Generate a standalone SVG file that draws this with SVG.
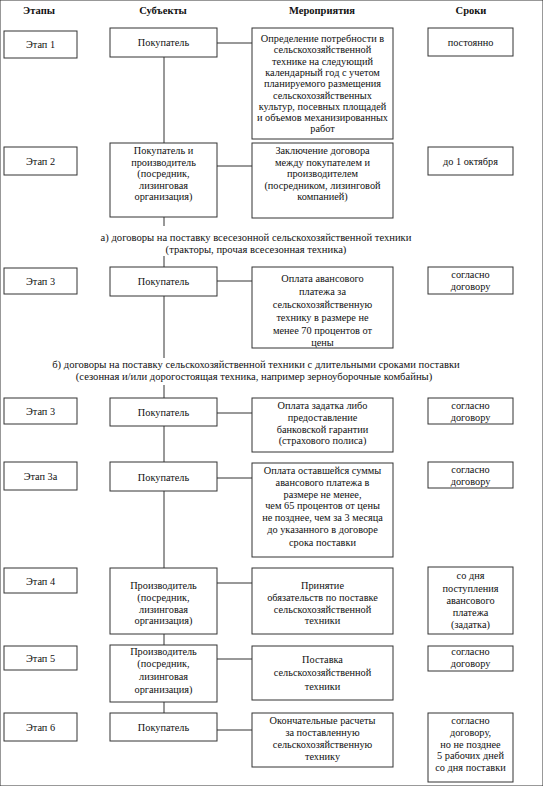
<svg xmlns="http://www.w3.org/2000/svg" width="543" height="786" viewBox="0 0 543 786">
<style>
text{font-family:"Liberation Serif","Times New Roman",serif;font-size:10.3px;fill:#111;text-anchor:middle}
.h{font-weight:bold;font-size:10.5px}
.m{font-size:10.6px}
rect{fill:#fff;stroke:#333;stroke-width:1}
line{stroke:#333;stroke-width:1}
</style>
<rect width="543" height="786" fill="#fff" stroke="none"/>
<g id="headers">
<text class="h" x="39" y="14">Этапы</text>
<text class="h" x="163" y="14">Субъекты</text>
<text class="h" x="322" y="14">Мероприятия</text>
<text class="h" x="471" y="14">Сроки</text>
</g>
<g id="connectors">
<line x1="217" y1="43" x2="252" y2="43"/>
<line x1="164" y1="57" x2="164" y2="143"/>
<line x1="217" y1="166" x2="252" y2="166"/>
<line x1="164" y1="217" x2="164" y2="226"/>
<line x1="164" y1="256" x2="164" y2="267"/>
<line x1="217" y1="281" x2="252" y2="281"/>
<line x1="164" y1="296" x2="164" y2="358"/>
<line x1="164" y1="385" x2="164" y2="398"/>
<line x1="217" y1="413" x2="252" y2="413"/>
<line x1="164" y1="426" x2="164" y2="462"/>
<line x1="217" y1="478" x2="252" y2="478"/>
<line x1="164" y1="491" x2="164" y2="568"/>
<line x1="217" y1="583" x2="252" y2="583"/>
<line x1="164" y1="634" x2="164" y2="645"/>
<line x1="217" y1="659" x2="252" y2="659"/>
<line x1="164" y1="702" x2="164" y2="713"/>
<line x1="217" y1="730" x2="252" y2="730"/>
</g>
<g id="stage1">
<rect x="4" y="31" width="73" height="27"/><text x="40.5" y="48">Этап 1</text>
</g>
<g id="subject1">
<rect x="110" y="28" width="107" height="29"/><text x="163.5" y="46">Покупатель</text>
</g>
<g id="action1">
<rect x="252" y="28" width="141" height="111"/>
<text x="322.5" y="42">Определение потребности в</text>
<text x="322.5" y="53.3">сельскохозяйственной</text>
<text x="322.5" y="64.6">технике на следующий</text>
<text x="322.5" y="75.9">календарный год с учетом</text>
<text x="322.5" y="87.2">планируемого размещения</text>
<text x="322.5" y="98.5">сельскохозяйственных</text>
<text x="322.5" y="109.8">культур, посевных площадей</text>
<text x="322.5" y="121.1">и объемов механизированных</text>
<text x="322.5" y="132.4">работ</text>
</g>
<g id="term1">
<rect x="428" y="28" width="85" height="28"/><text x="470.5" y="46">постоянно</text>
</g>

<g id="stage2">
<rect x="4" y="147" width="73" height="28"/><text x="40.5" y="165">Этап 2</text>
</g>
<g id="subject2">
<rect x="110" y="143" width="107" height="74"/>
<text x="163.5" y="154">Покупатель и</text>
<text x="163.5" y="165.5">производитель</text>
<text x="163.5" y="177">(посредник,</text>
<text x="163.5" y="188.5">лизинговая</text>
<text x="163.5" y="200">организация)</text>
</g>
<g id="action2">
<rect x="252" y="143" width="141" height="75"/>
<text x="322.5" y="154">Заключение договора</text>
<text x="322.5" y="165.5">между покупателем и</text>
<text x="322.5" y="177">производителем</text>
<text x="322.5" y="188.5">(посредником, лизинговой</text>
<text x="322.5" y="200">компанией)</text>
</g>
<g id="term2">
<rect x="428" y="147" width="85" height="28"/><text x="470.5" y="165">до 1 октября</text>
</g>

<g id="section-a">
<text class="m" x="256" y="241">а) договоры на поставку всесезонной сельскохозяйственной техники</text>
<text class="m" x="256" y="253">(тракторы, прочая всесезонная техника)</text>
</g>

<g id="stage3a">
<rect x="4" y="268" width="73" height="26"/><text x="40.5" y="285">Этап 3</text>
</g>
<g id="subject3a">
<rect x="110" y="267" width="107" height="29"/><text x="163.5" y="285">Покупатель</text>
</g>
<g id="action3a">
<rect x="252" y="267" width="141" height="81"/>
<text x="322.5" y="282">Оплата авансового</text>
<text x="322.5" y="295">платежа за</text>
<text x="322.5" y="308">сельскохозяйственную</text>
<text x="322.5" y="321">технику в размере не</text>
<text x="322.5" y="334">менее 70 процентов от</text>
<text x="322.5" y="346">цены</text>
</g>
<g id="term3a">
<rect x="428" y="267" width="85" height="27"/>
<text x="470.5" y="278">согласно</text>
<text x="470.5" y="290">договору</text>
</g>

<g id="section-b">
<text class="m" x="256" y="368">б) договоры на поставку сельскохозяйственной техники с длительными сроками поставки</text>
<text class="m" x="254" y="380">(сезонная и/или дорогостоящая техника, например зерноуборочные комбайны)</text>
</g>

<g id="stage3b">
<rect x="4" y="398" width="73" height="26"/><text x="40.5" y="415">Этап 3</text>
</g>
<g id="subject3b">
<rect x="110" y="398" width="107" height="28"/><text x="163.5" y="416">Покупатель</text>
</g>
<g id="action3b">
<rect x="252" y="398" width="141" height="54"/>
<text x="322.5" y="409">Оплата задатка либо</text>
<text x="322.5" y="421">предоставление</text>
<text x="322.5" y="432.5">банковской гарантии</text>
<text x="322.5" y="444">(страхового полиса)</text>
</g>
<g id="term3b">
<rect x="428" y="398" width="85" height="26"/>
<text x="470.5" y="409">согласно</text>
<text x="470.5" y="421">договору</text>
</g>

<g id="stage3c">
<rect x="4" y="462" width="73" height="28"/><text x="40.5" y="480">Этап 3а</text>
</g>
<g id="subject3c">
<rect x="110" y="462" width="107" height="29"/><text x="163.5" y="481">Покупатель</text>
</g>
<g id="action3c">
<rect x="252" y="463" width="141" height="94"/>
<text x="322.5" y="474">Оплата оставшейся суммы</text>
<text x="322.5" y="485.8">авансового платежа в</text>
<text x="322.5" y="497.6">размере не менее,</text>
<text x="322.5" y="509.4">чем 65 процентов от цены</text>
<text x="322.5" y="521.2">не позднее, чем за 3 месяца</text>
<text x="322.5" y="533">до указанного в договоре</text>
<text x="322.5" y="545.5">срока поставки</text>
</g>
<g id="term3c">
<rect x="428" y="462" width="85" height="26"/>
<text x="470.5" y="473">согласно</text>
<text x="470.5" y="485">договору</text>
</g>

<g id="stage4">
<rect x="4" y="568" width="73" height="25"/><text x="40.5" y="585">Этап 4</text>
</g>
<g id="subject4">
<rect x="110" y="568" width="107" height="66"/>
<text x="163.5" y="589">Производитель</text>
<text x="163.5" y="601">(посредник,</text>
<text x="163.5" y="612.5">лизинговая</text>
<text x="163.5" y="624">организация)</text>
</g>
<g id="action4">
<rect x="252" y="568" width="141" height="66"/>
<text x="322.5" y="589">Принятие</text>
<text x="322.5" y="601">обязательств по поставке</text>
<text x="322.5" y="612.5">сельскохозяйственной</text>
<text x="322.5" y="624">техники</text>
</g>
<g id="term4">
<rect x="428" y="567" width="85" height="67"/>
<text x="470.5" y="579">со дня</text>
<text x="470.5" y="591.5">поступления</text>
<text x="470.5" y="603.5">авансового</text>
<text x="470.5" y="615.5">платежа</text>
<text x="470.5" y="627.5">(задатка)</text>
</g>

<g id="stage5">
<rect x="4" y="646" width="73" height="24"/><text x="40.5" y="662">Этап 5</text>
</g>
<g id="subject5">
<rect x="110" y="645" width="107" height="57"/>
<text x="163.5" y="655">Производитель</text>
<text x="163.5" y="667">(посредник,</text>
<text x="163.5" y="680">лизинговая</text>
<text x="163.5" y="693">организация)</text>
</g>
<g id="action5">
<rect x="252" y="646" width="141" height="54"/>
<text x="322.5" y="663">Поставка</text>
<text x="322.5" y="676">сельскохозяйственной</text>
<text x="322.5" y="690">техники</text>
</g>
<g id="term5">
<rect x="428" y="646" width="85" height="25"/>
<text x="470.5" y="655">согласно</text>
<text x="470.5" y="667">договору</text>
</g>

<g id="stage6">
<rect x="4" y="713" width="73" height="28"/><text x="40.5" y="731">Этап 6</text>
</g>
<g id="subject6">
<rect x="110" y="713" width="107" height="28"/><text x="163.5" y="731">Покупатель</text>
</g>
<g id="action6">
<rect x="252" y="713" width="141" height="54"/>
<text x="322.5" y="724">Окончательные расчеты</text>
<text x="322.5" y="736">за поставленную</text>
<text x="322.5" y="747.5">сельскохозяйственную</text>
<text x="322.5" y="760">технику</text>
</g>
<g id="term6">
<rect x="428" y="713" width="85" height="69"/>
<text x="470.5" y="724">согласно</text>
<text x="470.5" y="736">договору,</text>
<text x="470.5" y="747.5">но не позднее</text>
<text x="470.5" y="759">5 рабочих дней</text>
<text x="470.5" y="771">со дня поставки</text>
</g>
</svg>
